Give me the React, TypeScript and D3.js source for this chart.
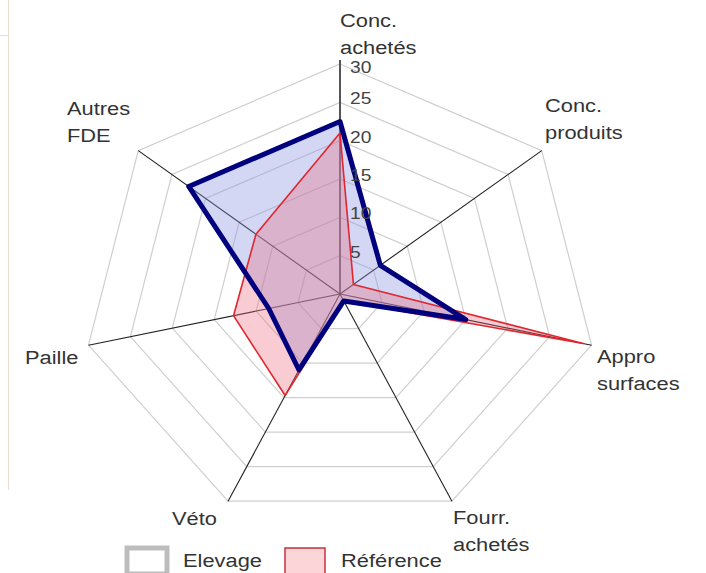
import { useEffect, useRef } from 'react';
import * as d3 from 'd3';

const axes = [
  'Conc.|achetés',
  'Conc.|produits',
  'Appro|surfaces',
  'Fourr.|achetés',
  'Véto',
  'Paille',
  'Autres|FDE',
];
const elevage = [22.5, 6, 15, 1, 11, 8.5, 22.5];
const reference = [21, 2, 29, 1, 14.7, 12.7, 12.5];
const ticks = [5, 10, 15, 20, 25, 30];
const seriesNames = ['Elevage', 'Référence'];

// first-line baseline of each axis label
const labelPos = [
  [340, 27],
  [545, 112],
  [597, 363],
  [453, 524],
  [172, 525],
  [25, 364],
  [67, 115],
];

const FONT = 'Liberation Sans, Arial, sans-serif';

const App = () => {
  const svgRef = useRef<SVGSVGElement>(null);

  useEffect(() => {
    const width = 706;
    const height = 573;
    const cx = 340;
    const cy = 294;

    const svg = d3.select(svgRef.current).attr('width', width).attr('height', height);
    svg.selectAll('*').remove();

    const rx = d3.scaleLinear().domain([0, 30]).range([0, 258]);
    const ry = d3.scaleLinear().domain([0, 30]).range([0, 230]);
    const n = axes.length;
    const angle = (i: number) => (i * 2 * Math.PI) / n;
    const pt = (i: number, v: number): [number, number] => [
      cx + rx(v) * Math.sin(angle(i)),
      cy - ry(v) * Math.cos(angle(i)),
    ];

    const line = d3.line<[number, number]>().curve(d3.curveLinearClosed);

    // frame remnant
    svg.append('line').attr('x1', 8.5).attr('x2', 8.5).attr('y1', 0).attr('y2', 490)
      .attr('stroke', '#ecdccc').attr('stroke-width', 1);
    svg.append('line').attr('x1', 0).attr('x2', 8).attr('y1', 35.5).attr('y2', 35.5)
      .attr('stroke', '#ecdccc').attr('stroke-width', 1);

    // rings
    svg.selectAll('path.ring')
      .data(ticks)
      .enter()
      .append('path')
      .attr('class', 'ring')
      .attr('d', (t) => line(axes.map((_, i) => pt(i, t))))
      .attr('fill', 'none')
      .attr('stroke', '#cfcfcf')
      .attr('stroke-width', 1.2);

    // axis spokes
    svg.selectAll('line.spoke')
      .data(axes)
      .enter()
      .append('line')
      .attr('class', 'spoke')
      .attr('x1', cx)
      .attr('y1', cy)
      .attr('x2', (_, i) => pt(i, 30)[0])
      .attr('y2', (_, i) => pt(i, 30)[1] - (i === 0 ? 4 : 0))
      .attr('stroke', (_, i) => (i === 0 ? '#555' : '#222'))
      .attr('stroke-width', (_, i) => (i === 0 ? 2 : 1.1));

    // series
    const bluePts = elevage.map((v, i) => pt(i, v));
    const redPts = reference.map((v, i) => pt(i, v));

    svg.append('path').attr('d', line(bluePts)).attr('fill', 'rgba(140,150,225,0.38)');
    svg.append('path').attr('d', line(redPts)).attr('fill', 'rgba(235,110,125,0.35)');
    svg.append('path').attr('d', line(redPts)).attr('fill', 'none')
      .attr('stroke', '#e0262e').attr('stroke-width', 1.6).attr('stroke-linejoin', 'round');
    svg.append('path').attr('d', line(bluePts)).attr('fill', 'none')
      .attr('stroke', '#00007f').attr('stroke-width', 5).attr('stroke-linejoin', 'round');

    // tick labels
    svg.selectAll('text.tick')
      .data(ticks)
      .enter()
      .append('text')
      .attr('class', 'tick')
      .attr('transform', (t) => `translate(${cx + 10},${pt(0, t)[1] + (t === 30 ? 9 : 2)}) scale(1.2,1)`)
      .attr('font-family', FONT)
      .attr('font-size', 16)
      .attr('fill', '#444')
      .text((t) => t);

    // axis labels
    axes.forEach((a, i) => {
      const t = svg.append('text')
        .attr('transform', `translate(${labelPos[i][0]},${labelPos[i][1]}) scale(1.15,1)`)
        .attr('font-family', FONT)
        .attr('font-size', 19)
        .attr('fill', '#333');
      a.split('|').forEach((s, k) => {
        t.append('tspan').attr('x', 0).attr('dy', k === 0 ? 0 : 27).text(s);
      });
    });

    // legend
    const leg = svg.append('g').attr('transform', 'translate(125,546)');
    seriesNames.forEach((name, k) => {
      const g = leg.append('g').attr('transform', `translate(${k * 158},0)`);
      g.append('rect')
        .attr('x', 2).attr('y', 2).attr('width', 40).attr('height', 26)
        .attr('fill', k === 0 ? '#fff' : '#fbd5d7')
        .attr('stroke', k === 0 ? '#bdbdbd' : '#c8303a')
        .attr('stroke-width', k === 0 ? 5 : 1.5);
      g.append('text')
        .attr('transform', 'translate(58,21) scale(1.15,1)')
        .attr('font-family', FONT)
        .attr('font-size', 19)
        .attr('fill', '#333')
        .text(name);
    });
  }, []);

  return (
    <div style={{ position: 'absolute', left: 0, top: 0 }}>
      <svg ref={svgRef}></svg>
    </div>
  );
};

export default App;
